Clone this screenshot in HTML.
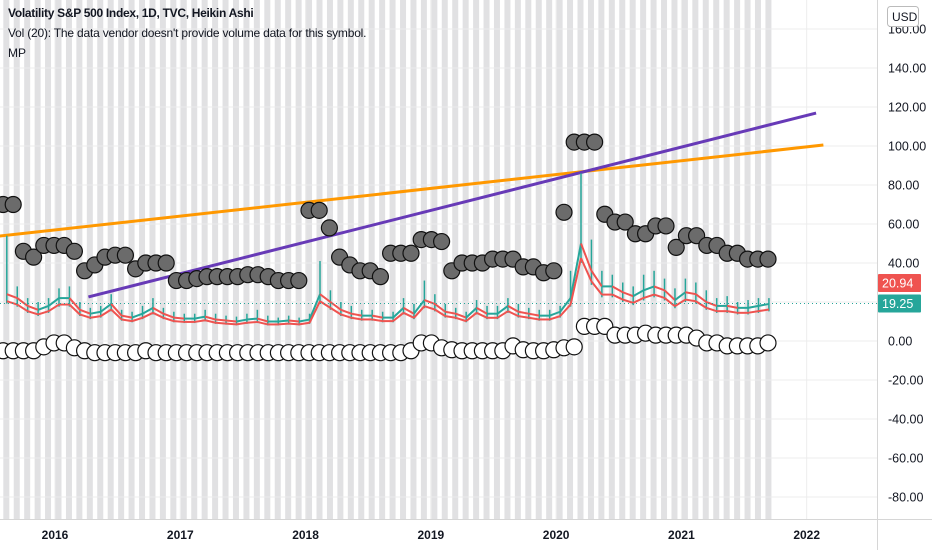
<!DOCTYPE html>
<html><head><meta charset="utf-8"><style>
html,body{margin:0;padding:0;background:#fff;}
#wrap{position:relative;width:932px;height:550px;overflow:hidden;font-family:"Liberation Sans",sans-serif;}
svg{position:absolute;left:0;top:0;}
.legend{position:absolute;left:8px;font-size:12px;color:#131722;font-family:"Liberation Sans",sans-serif;}
</style></head><body>
<div id="wrap">
<svg id="chart" width="932" height="550"></svg>
<div class="legend" style="top:6px;font-weight:bold;letter-spacing:-0.3px">Volatility S&amp;P 500 Index, 1D, TVC, Heikin Ashi</div>
<div class="legend" style="top:26px;letter-spacing:-0.2px">Vol (20): The data vendor doesn't provide volume data for this symbol.</div>
<div class="legend" style="top:46px">MP</div>
</div>
<script>
// ---- data ----
const yTicks = [160,140,120,100,80,60,40,20,0,-20,-40,-60,-80];
const yearLabels = ["2016","2017","2018","2019","2020","2021","2022"];
const yearMonths = [0,12,24,36,48,60,72];
// dark MP circles (one per marker index)
const darkVals = [70,70,46,43,49,49,49,46,36,39,43,44,44,37,40,40,40,31,31,32,33,33,33,33,34,34,33,31,31,31,
67,67,58,43,39,36,36,33,45,45,45,52,52,51,36,40,40,40,42,42,42,38,38,35,36,
66,102,102,102,65,61,61,55,55,59,59,48,54,54,49,49,45,45,42,42,42];
// white MP circles
const whiteVals = [-5,-5,-5,-5,-3,-1,-1,-3.5,-5,-6,-6,-6,-6,-6,-5,-6,-6,-6,-6,-6,-6,-6,-6,-6,-6,-6,-6,-6,-6,-6,
-6,-6,-6,-6,-6,-6,-6,-6,-6,-6,-5,-1,-1,-3.5,-4.5,-5,-5,-5,-5,-5,-2.5,-4.5,-5,-5,-4.5,
-3.5,-3,7.5,7.5,7.5,3,3,3,4,3,3,3,3,1.5,-1,-1,-2.5,-2.5,-2.5,-2.5,-1];
// VIX monthly close / high, starting Aug 2015 (month index -5)
const vixStart = -5;
const vixClose = [24,22,18,16,18,22,22,16,14,15,19,13,12,14,17,14,12,11.5,11.5,12.5,11,10.5,10,11,11.5,10,10,10.5,10,
11,24,20,16,14,13,13,12,12,17,14,21,19,15,14,12,17,14,14,18,15,14,13,13,15,22,50,36,28,28,25,23,26,28,26,21,25,24,20,18,18,17,17,18,19];
const vixHigh = [54,28,22,20,22,27,28,20,17,18,24,16,15,18,22,17,15,14,14,16,14,13,12.5,14,16,13,12,13,12,
14,41,26,20,18,16,16,15,15,22,19,31,24,19,17,15,21,18,18,22,19,17,16,16,18,36,86,52,36,34,30,28,34,36,32,27,32,30,26,22,23,20,21,22,22];
// trend lines: [month, value]
const orangeLine = [[-5.3,53.8],[73.6,100.5]];
const purpleLine = [[3.2,22.6],[72.9,116.9]];
const lastHigh = 20.94, lastClose = 19.25;

// ---- scales ----
const Y = v => 341 - v*39/20;
const X = m => 55 + m*10.44;
const CX = i => 3 + i*10.2;
const NS = "http://www.w3.org/2000/svg";
const svg = document.getElementById("chart");
function mk(tag, attrs, parent){const e=document.createElementNS(NS,tag);for(const k in attrs)e.setAttribute(k,attrs[k]);(parent||svg).appendChild(e);return e;}

// stripes
const gS = mk("g",{});


for(let m=-6;m<=68;m++){ mk("rect",{x:X(m)+0.5,y:0,width:6,height:519,fill:"#e1e1e3"},gS); }
// gridlines
const gG = mk("g",{});


yTicks.forEach(t=>mk("line",{x1:0,x2:877,y1:Y(t),y2:Y(t),stroke:"#ececec","stroke-width":1},gG));
yearMonths.forEach(m=>mk("line",{x1:X(m),x2:X(m),y1:0,y2:519,stroke:"#ececec","stroke-width":1},gG));
mk("line",{x1:0,x2:932,y1:519.5,y2:519.5,stroke:"#d6d6d6"});
mk("line",{x1:877.5,x2:877.5,y1:0,y2:550,stroke:"#d6d6d6"});

// trend lines
const ol = mk("line",{x1:X(orangeLine[0][0]),y1:Y(orangeLine[0][1]),x2:X(orangeLine[1][0]),y2:Y(orangeLine[1][1]),stroke:"#ff9800","stroke-width":3});


const pl = mk("line",{x1:X(purpleLine[0][0]),y1:Y(purpleLine[0][1]),x2:X(purpleLine[1][0]),y2:Y(purpleLine[1][1]),stroke:"#673ab7","stroke-width":3});



// VIX series
const gV = mk("g",{});


for(let i=0;i<vixClose.length;i++){
  const m = vixStart+i;
  const up = i===0 || vixClose[i]>=vixClose[i-1];
  mk("line",{x1:X(m)+4,x2:X(m)+4,y1:Y(vixClose[i]*0.8),y2:Y(vixHigh[i]),stroke:"#26a69a","stroke-width":1.5},gV);
  if(i>0){
    const x0=X(m-1)+4, x1=X(m)+4;
    mk("line",{x1:x0,y1:Y(vixClose[i-1]),x2:x1,y2:Y(vixClose[i]),stroke:up?"#26a69a":"#ef5350","stroke-width":2},gV);
    mk("line",{x1:x0,y1:Y(vixClose[i-1]*0.85),x2:x1,y2:Y(vixClose[i]*0.85),stroke:"#ef5350","stroke-width":2},gV);
  }
}
const lp = mk("line",{x1:0,x2:877,y1:Y(lastClose),y2:Y(lastClose),stroke:"#26a69a","stroke-width":1,"stroke-dasharray":"1,3"});



// circles
const gD = mk("g",{});


darkVals.forEach((v,i)=>{const c=mk("circle",{cx:CX(i),cy:Y(v),r:8,fill:"#6b6b6b",stroke:"#111","stroke-width":1.2},gD);

});
const gW = mk("g",{});


whiteVals.forEach((v,i)=>{const c=mk("circle",{cx:CX(i),cy:Y(v),r:8,fill:"#fff",stroke:"#111","stroke-width":1.2},gW);

});

// right axis
mk("rect",{x:878,y:0,width:54,height:519,fill:"#fff"});
mk("rect",{x:0,y:520,width:877,height:30,fill:"#fff"});
yTicks.forEach(t=>{const tx=mk("text",{x:888,y:Y(t)+4.5,"font-size":12.5,fill:"#131722","font-family":"Liberation Sans, sans-serif"});tx.textContent=t.toFixed(2);

});
const rb = mk("rect",{x:878,y:274,width:43,height:18,fill:"#ef5350",rx:1});


const rt = mk("text",{x:882,y:287.5,"font-size":12.5,fill:"#fff","font-family":"Liberation Sans, sans-serif"}); rt.textContent=lastHigh.toFixed(2);
const gb = mk("rect",{x:878,y:Y(lastClose)-9,width:43,height:18,fill:"#26a69a",rx:1});


const gt = mk("text",{x:882,y:Y(lastClose)+4.5,"font-size":12.5,fill:"#fff","font-family":"Liberation Sans, sans-serif"}); gt.textContent=lastClose.toFixed(2);
const ub = mk("rect",{x:887.5,y:6.5,width:31,height:20,fill:"#fff",stroke:"#bbb",rx:3});


const ut = mk("text",{x:892,y:21,"font-size":12,fill:"#131722","font-family":"Liberation Sans, sans-serif"}); ut.textContent="USD";

yearLabels.forEach((l,i)=>{const tx=mk("text",{x:X(yearMonths[i]),y:539,"font-size":12,"font-weight":"bold",fill:"#131722","text-anchor":"middle","font-family":"Liberation Sans, sans-serif"});tx.textContent=l;

});
</script>
</body></html>
